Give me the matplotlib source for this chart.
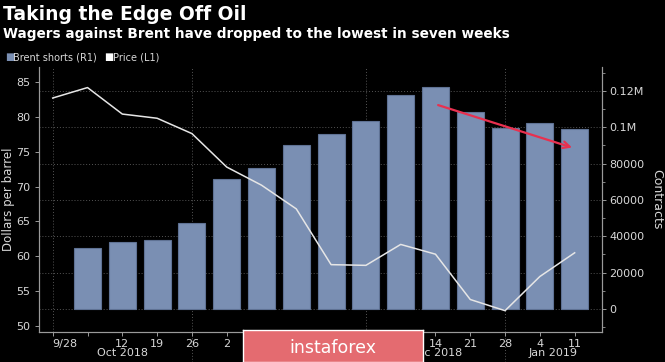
import matplotlib
matplotlib.use("Agg")
import matplotlib.pyplot as plt
from matplotlib.ticker import FixedLocator, MultipleLocator, FuncFormatter
import pandas as pd

# weekly data, Fri dates
price_dates = pd.date_range("2018-09-28", "2019-01-11", freq="7D")
price = [82.7, 84.2, 80.4, 79.8, 77.6, 72.8, 70.2, 66.8, 58.8, 58.7,
         61.7, 60.3, 53.8, 52.2, 57.1, 60.5]

bar_dates = price_dates[1:]
shorts = [33300, 36600, 37700, 47100, 71700, 77400, 90200, 96500, 103700,
          117600, 122000, 108600, 99600, 102600, 98900]

# labels under the watermark are left blank (not visible in the original)
week_labels = ["9/28", "", "12", "19", "26", "2", "", "", "", "",
               "", "14", "21", "28", "4", "11"]
months = ["Oct 2018", "", "Dec 2018", "Jan 2019"]
month_bounds = ["2018-09-28", "2018-10-26", "2018-11-30", "2018-12-28"]

bg = "black"
txt = "#d8d8d8"
bar_col = "#7a8fb3"
grid_col = "#555555"

fig = plt.figure(figsize=(6.65, 3.62), dpi=100, facecolor=bg)
ax = fig.add_axes([39/665, 1-332/362, (602-39)/665, (332-67)/362])
ax2 = ax.twinx()
ax.set_zorder(ax2.get_zorder() + 1)
ax.patch.set_visible(False)
ax2.set_facecolor(bg)

left = price_dates[0] - pd.Timedelta(days=2.76)
right = price_dates[0] + pd.Timedelta(days=110.5)

# bars on the right axis
ax2.bar(bar_dates, shorts, width=5.45, color=bar_col, edgecolor="#5f7294",
        linewidth=0.8, zorder=2)
ax2.set_ylim(-12670, 133200)
ax2.yaxis.set_major_locator(FixedLocator([0, 20000, 40000, 60000, 80000, 100000, 120000]))
ax2.yaxis.set_minor_locator(MultipleLocator(10000))
ax2.yaxis.set_major_formatter(FuncFormatter(
    lambda v, p: "0.12M" if v == 120000 else ("0.1M" if v == 100000 else "%d" % v)))
ax2.grid(axis="y", color=grid_col, linestyle=(0, (1, 2)), linewidth=0.7)
ax2.set_axisbelow(True)
ax2.set_ylabel("Contracts", color=txt, fontsize=9, rotation=270, labelpad=14)

# month separators behind the bars
trans = ax2.get_xaxis_transform()
for i, b in enumerate(month_bounds):
    d = pd.Timestamp(b)
    ax2.axvline(d, color=grid_col, linestyle=(0, (1, 2)), linewidth=0.7, zorder=1)
    if i > 0:
        ax2.plot([d, d], [0, -0.12], transform=trans, color=grid_col,
                 linestyle=(0, (1, 2)), linewidth=0.7, clip_on=False, zorder=1)

# price on the left axis
ax.plot(price_dates, price, color="#e6e6e6", linewidth=1.1, zorder=5)
ax.set_ylim(49.14, 87.15)
ax.yaxis.set_major_locator(FixedLocator([50, 55, 60, 65, 70, 75, 80, 85]))
ax.set_ylabel("Dollars per barrel", color=txt, fontsize=8.5)
ax.yaxis.set_label_coords(-0.042, 0.5)

ax.set_xlim(left, right)
ax.set_xticks(price_dates)
ax.set_xticklabels(week_labels)
ax.get_xticklabels()[0].set_horizontalalignment("left")

for a in (ax, ax2):
    for s in a.spines.values():
        s.set_color("#9a9a9a")
        s.set_linewidth(0.8)
    a.spines["top"].set_visible(False)
    a.tick_params(colors="#9a9a9a", labelcolor=txt, labelsize=8, length=3, width=0.7)
    a.tick_params(which="minor", colors="#9a9a9a", length=2, width=0.6)
ax.tick_params(axis="x", pad=2)
ax2.tick_params(axis="y", pad=2)

edges = [pd.Timestamp(b) for b in month_bounds] + [right]
xt = ax.get_xaxis_transform()
for i, m in enumerate(months):
    if not m:
        continue
    mid = edges[i] + (edges[i + 1] - edges[i]) / 2
    ax.text(mid, -0.079, m, transform=xt, ha="center", va="center",
            color=txt, fontsize=8)

# red arrow
ax2.annotate("", xy=(pd.Timestamp("2019-01-11"), 88400),
             xytext=(pd.Timestamp("2018-12-14"), 112700),
             arrowprops=dict(arrowstyle="->", color="#e8304f", lw=1.6,
                             mutation_scale=12), zorder=6)

# titles and legend
fig.text(0.004, 1-5/362, "Taking the Edge Off Oil", color="white",
         fontsize=13.5, fontweight="bold", va="top", ha="left")
fig.text(0.004, 1-27/362, "Wagers against Brent have dropped to the lowest in seven weeks",
         color="white", fontsize=9.8, fontweight="bold", va="top", ha="left")
fig.text(5/665, 1-57/362, "\u25a0", color=bar_col, fontsize=7, va="center")
fig.text(13/665, 1-57/362, "Brent shorts (R1)", color=txt, fontsize=7, va="center")
fig.text(104/665, 1-57/362, "\u25a0", color="white", fontsize=7, va="center")
fig.text(113/665, 1-57/362, "Price (L1)", color=txt, fontsize=7, va="center")

# watermark box
box = fig.add_axes([243/665, 0, (423-243)/665, 32/362], zorder=10)
box.set_xticks([])
box.set_yticks([])
box.set_facecolor("#e46b70")
for s in box.spines.values():
    s.set_color("white")
    s.set_linewidth(1)
box.text(0.5, 0.45, "instaforex", color="white", fontsize=12.5,
         ha="center", va="center", transform=box.transAxes)

fig.savefig("out.png", dpi=100, facecolor=bg)
